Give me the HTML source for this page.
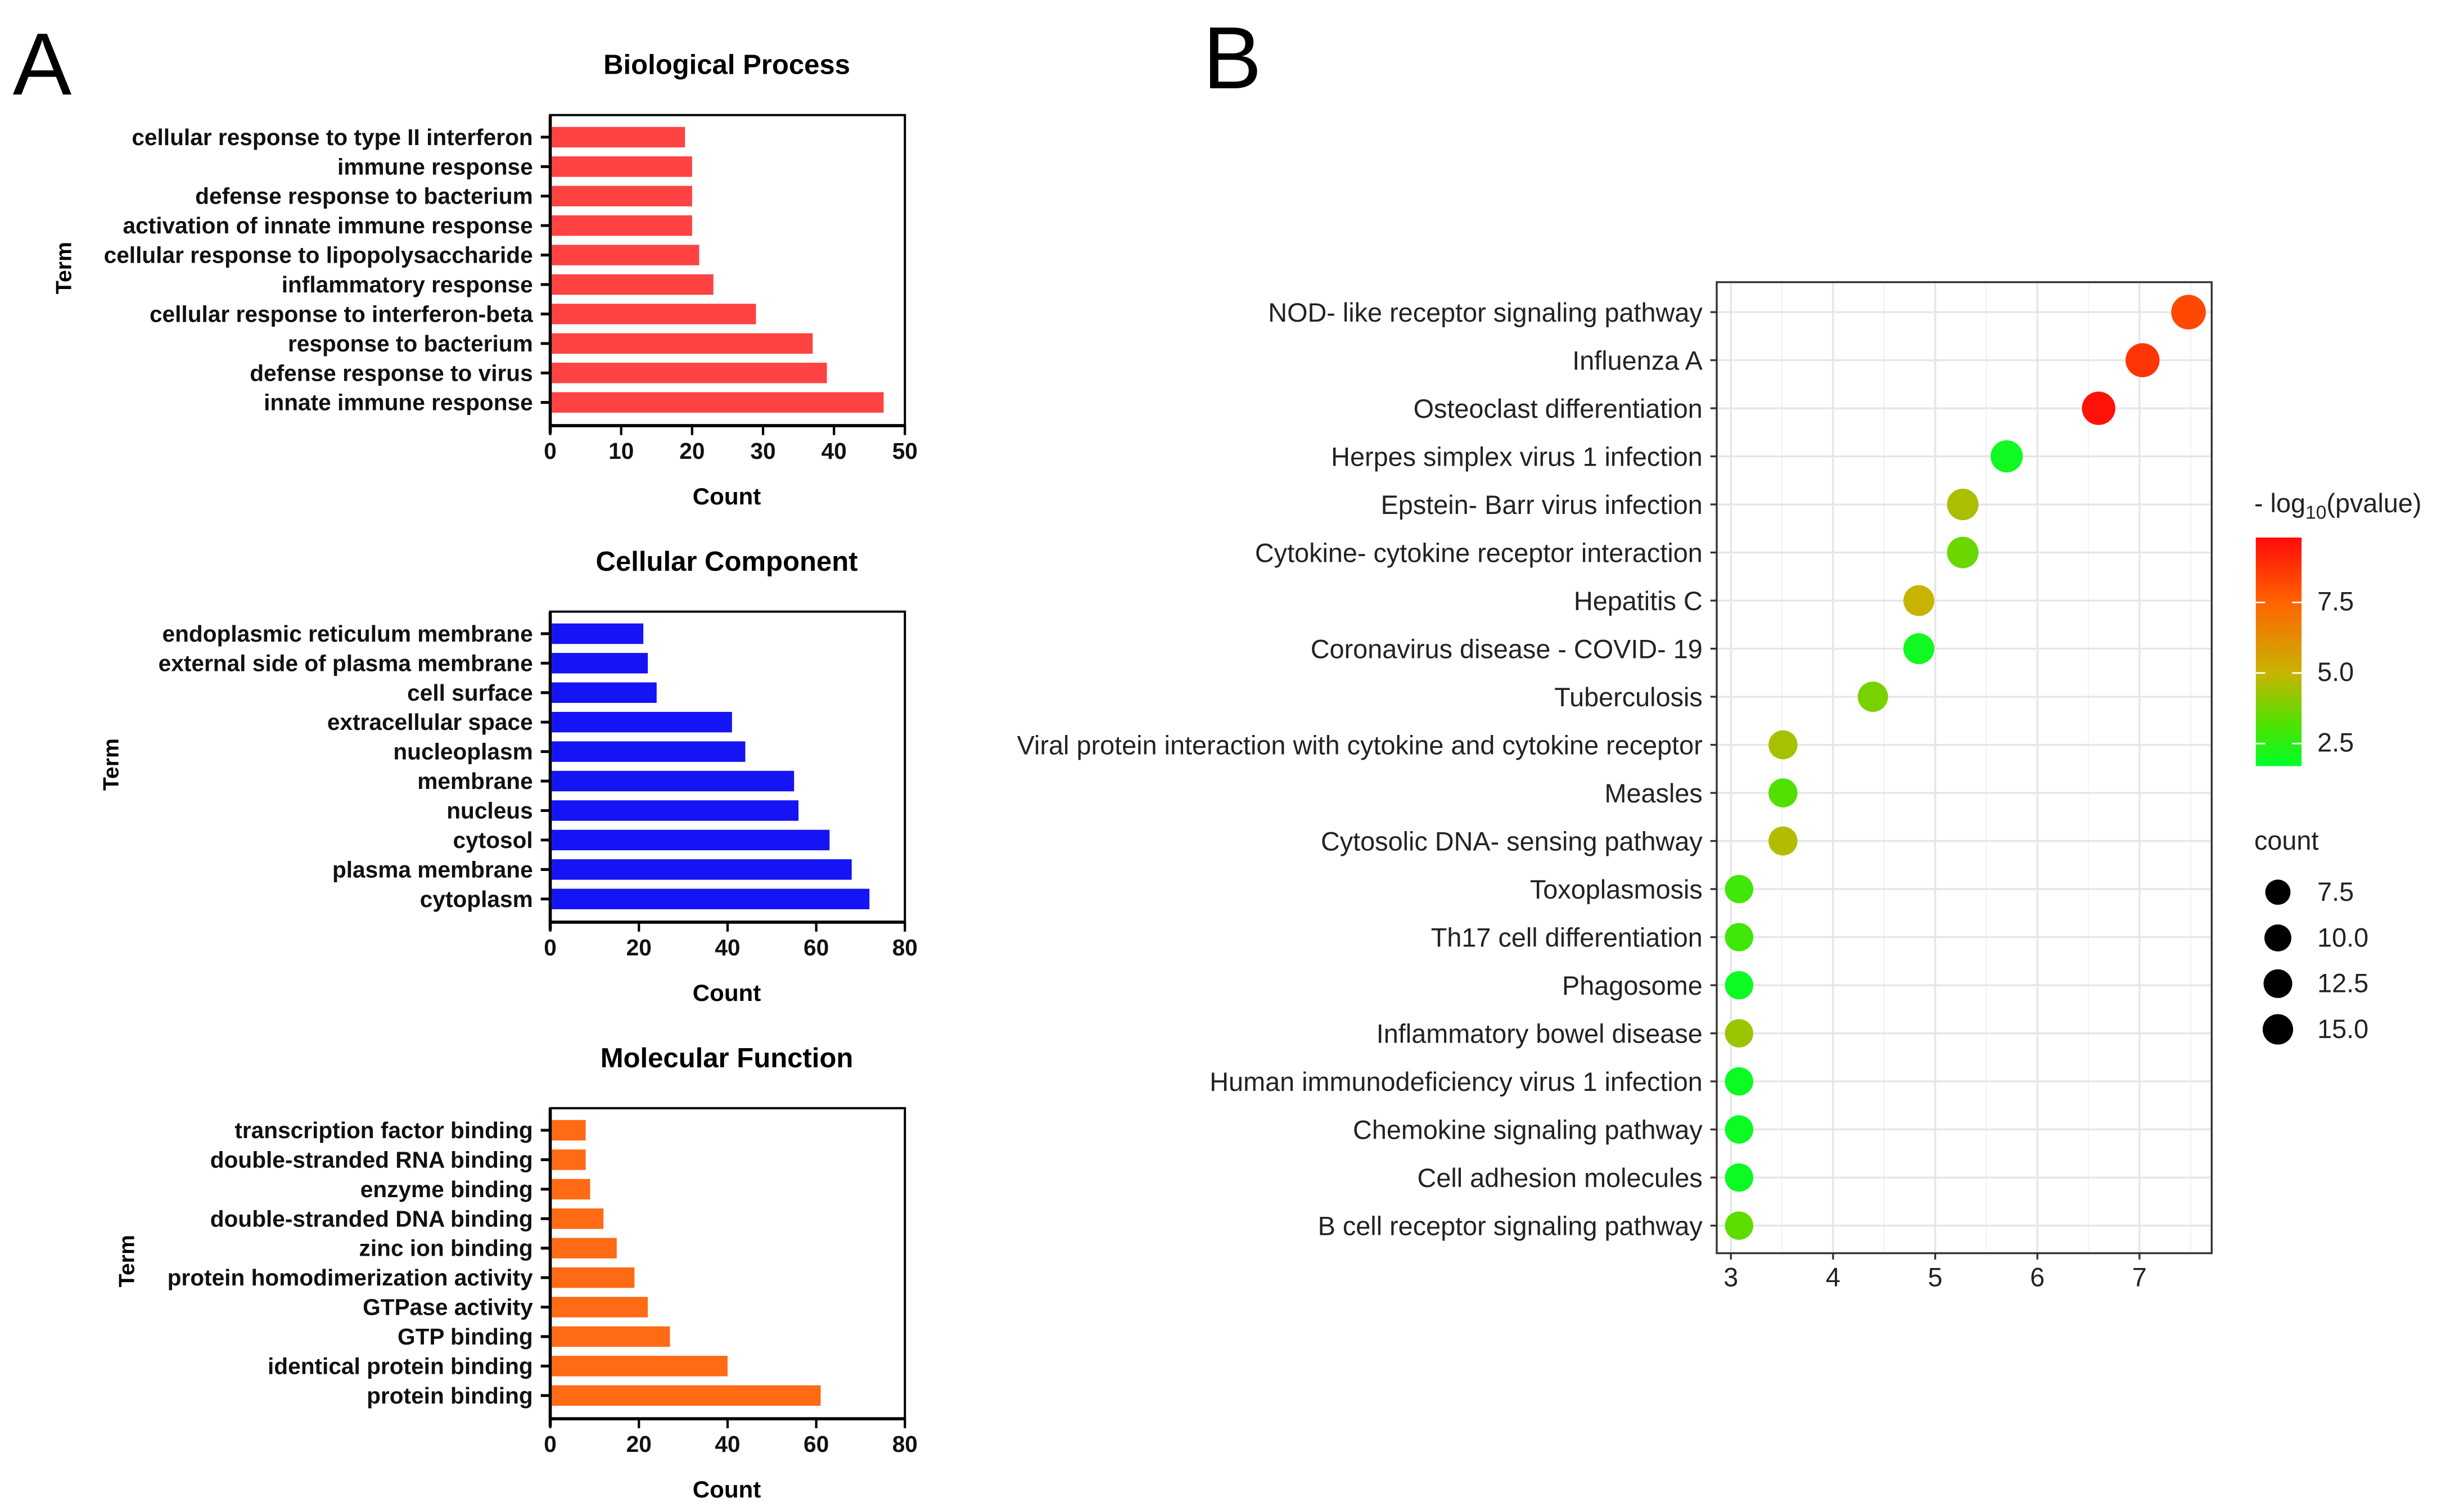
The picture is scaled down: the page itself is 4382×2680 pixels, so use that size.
<!DOCTYPE html>
<html><head><meta charset="utf-8"><style>
html,body{margin:0;padding:0;background:#fff}
svg{display:block}
.a{font-family:"Liberation Sans",sans-serif;font-weight:bold;font-size:14.5px;fill:#111}
.b{font-family:"Liberation Sans",sans-serif;font-size:16.7px;fill:#222}
</style></head><body>
<svg id="fig" width="4382" height="2680" viewBox="0 0 1563 956" xmlns="http://www.w3.org/2000/svg">
<rect width="1563" height="956" fill="#fff"/>
<text x="8" y="60" font-family="Liberation Sans,sans-serif" font-size="56">A</text>
<text x="763" y="56" font-family="Liberation Sans,sans-serif" font-size="56">B</text>
<g id="A"></g><g id="B"></g>
</svg>
<script>
const NS="http://www.w3.org/2000/svg";
function mk(p,t,a,txt){const e=document.createElementNS(NS,t);for(const k in a)e.setAttribute(k,a[k]);if(txt!==undefined)e.textContent=txt;p.appendChild(e);return e;}

// Panel A data
const bpTerms=["cellular response to type II interferon","immune response","defense response to bacterium","activation of innate immune response","cellular response to lipopolysaccharide","inflammatory response","cellular response to interferon-beta","response to bacterium","defense response to virus","innate immune response"];
const bpCounts=[19,20,20,20,21,23,29,37,39,47];
const bpTicks=[0,10,20,30,40,50];
const ccTerms=["endoplasmic reticulum membrane","external side of plasma membrane","cell surface","extracellular space","nucleoplasm","membrane","nucleus","cytosol","plasma membrane","cytoplasm"];
const ccCounts=[21,22,24,41,44,55,56,63,68,72];
const ccTicks=[0,20,40,60,80];
const mfTerms=["transcription factor binding","double-stranded RNA binding","enzyme binding","double-stranded DNA binding","zinc ion binding","protein homodimerization activity","GTPase activity","GTP binding","identical protein binding","protein binding"];
const mfCounts=[8,8,9,12,15,19,22,27,40,61];
const mfTicks=[0,20,40,60,80];

// Panel B data
const keggTerms=["NOD- like receptor signaling pathway","Influenza A","Osteoclast differentiation","Herpes simplex virus 1 infection","Epstein- Barr virus infection","Cytokine- cytokine receptor interaction","Hepatitis C","Coronavirus disease -  COVID- 19","Tuberculosis","Viral protein interaction with cytokine and cytokine receptor","Measles","Cytosolic DNA- sensing pathway","Toxoplasmosis","Th17 cell differentiation","Phagosome","Inflammatory bowel disease","Human immunodeficiency virus 1 infection","Chemokine signaling pathway","Cell adhesion molecules","B cell receptor signaling pathway"];
const keggX=[7.48,7.03,6.6,5.7,5.27,5.27,4.84,4.84,4.39,3.51,3.51,3.51,3.08,3.08,3.08,3.08,3.08,3.08,3.08,3.08];
const keggP=[8.2,8.7,9.6,2.0,4.6,3.6,5.0,2.0,3.8,4.5,3.2,4.7,2.9,2.9,1.9,4.3,1.9,1.9,1.9,3.4];
const keggCount=[16,15,14,12,11,11,10,10,9,7,7,7,6,6,6,6,6,6,6,6];
const bTicks=[3,4,5,6,7];
const pTicks=[2.5,5.0,7.5];
const countLegend=[7.5,10.0,12.5,15.0];

const A=document.getElementById('A');
function barPanel(name,title,terms,counts,ticks,top,color,termX){
  const g=mk(A,'g',{});
  
  
  const x0=349,x1=574,y0=top,y1=top+197,max=ticks[ticks.length-1];
  const sx=v=>x0+(x1-x0)*v/max;
  const t=mk(g,'text',{x:461,y:top-26,'text-anchor':'middle','font-family':'Liberation Sans,sans-serif','font-weight':'bold','font-size':'17.5'},title);
  
  const fr=mk(g,'rect',{x:x0,y:y0,width:x1-x0,height:y1-y0,fill:'none',stroke:'#000','stroke-width':1.4});
  
  mk(g,'line',{x1:x0,y1:y0,x2:x0,y2:y1+5,stroke:'#000','stroke-width':2});
  mk(g,'line',{x1:x0,y1:y1,x2:x1,y2:y1,stroke:'#000','stroke-width':2});
  const step=18.7;
  terms.forEach((tm,i)=>{
    const cy=top+14+i*step;
    const r=mk(g,'rect',{x:x0+1,y:cy-6.5,width:sx(counts[i])-x0-1,height:13,fill:color});
    
    
    mk(g,'line',{x1:x0-6,y1:cy,x2:x0,y2:cy,stroke:'#000','stroke-width':1.8});
    const l=mk(g,'text',{x:x0-11,y:cy+5,'text-anchor':'end',class:'a'},tm);
    
  });
  ticks.forEach(v=>{
    mk(g,'line',{x1:sx(v),y1:y1,x2:sx(v),y2:y1+6,stroke:'#000','stroke-width':1.5});
    const l=mk(g,'text',{x:sx(v),y:y1+21,'text-anchor':'middle',class:'a'},String(v));
    
  });
  const c=mk(g,'text',{x:461,y:y1+50,'text-anchor':'middle','font-family':'Liberation Sans,sans-serif','font-weight':'bold','font-size':'15'},'Count');
  
  const tt=mk(g,'text',{x:0,y:0,'text-anchor':'middle','font-family':'Liberation Sans,sans-serif','font-weight':'bold','font-size':'14',transform:`translate(${termX+5},${top+97}) rotate(-90)`},'Term');
  
}
barPanel('biological-process','Biological Process',bpTerms,bpCounts,bpTicks,73,'#ff4242',40);
barPanel('cellular-component','Cellular Component',ccTerms,ccCounts,ccTicks,388,'#1414f5',70);
barPanel('molecular-function','Molecular Function',mfTerms,mfCounts,mfTicks,703,'#ff6a14',80);

// Panel B
const B=document.getElementById('B');


const bx0=1089,bx1=1403,by0=179,by1=795;
const bsx=v=>1098+(v-3)*64.8;
const bsy=i=>198+i*30.5;
const stops=[[1.7,[0,255,40]],[3.2,[80,225,0]],[5,[200,180,0]],[7.5,[255,100,0]],[9.8,[255,10,10]]];
function col(v){
  if(v<=stops[0][0])return `rgb(${stops[0][1]})`;
  for(let i=1;i<stops.length;i++){if(v<=stops[i][0]){const a=stops[i-1],b=stops[i],t=(v-a[0])/(b[0]-a[0]);return 'rgb('+a[1].map((c,k)=>Math.round(c+(b[1][k]-c)*t)).join(',')+')';}}
  return `rgb(${stops[stops.length-1][1]})`;
}
const rad=c=>9+(c-6)*0.2;
for(let v=3;v<=7.5;v+=0.5){mk(B,'line',{x1:bsx(v),y1:by0,x2:bsx(v),y2:by1,stroke:v%1===0?'#e6e6e6':'#f3f3f3','stroke-width':v%1===0?1.2:0.8});}
keggTerms.forEach((t,i)=>mk(B,'line',{x1:bx0,y1:bsy(i),x2:bx1,y2:bsy(i),stroke:'#e6e6e6','stroke-width':1.2}));
const bf=mk(B,'rect',{x:bx0,y:by0,width:bx1-bx0,height:by1-by0,fill:'none',stroke:'#333','stroke-width':1.2});

keggTerms.forEach((t,i)=>{
  mk(B,'line',{x1:bx0-4,y1:bsy(i),x2:bx0,y2:bsy(i),stroke:'#333','stroke-width':1.2});
  const l=mk(B,'text',{x:bx0-9,y:bsy(i)+6,'text-anchor':'end',class:'b'},t);
  
  const c=mk(B,'circle',{cx:bsx(keggX[i]),cy:bsy(i),r:rad(keggCount[i]),fill:col(keggP[i])});
  
  
});
bTicks.forEach(v=>{
  mk(B,'line',{x1:bsx(v),y1:by1,x2:bsx(v),y2:by1+4,stroke:'#333','stroke-width':1.2});
  const l=mk(B,'text',{x:bsx(v),y:by1+21,'text-anchor':'middle',class:'b','font-size':'14.5'},String(v));
  
});
const lt=mk(B,'text',{x:1430,y:325,class:'b','font-size':'19.5'});

lt.innerHTML='- log<tspan font-size="12" dy="4">10</tspan><tspan dy="-4">(pvalue)</tspan>';
const defs=mk(B,'defs',{});
const gr=mk(defs,'linearGradient',{id:'pg',x1:0,y1:1,x2:0,y2:0});
const gy0=486,gy1=341,pmin=1.7,pmax=9.8;
stops.forEach(s=>mk(gr,'stop',{offset:((s[0]-pmin)/(pmax-pmin)).toFixed(3),'stop-color':`rgb(${s[1]})`}));
const gb=mk(B,'rect',{x:1431,y:gy1,width:29,height:gy0-gy1,fill:'url(#pg)'});

const psy=v=>gy0-(v-pmin)/(pmax-pmin)*(gy0-gy1);
pTicks.forEach(v=>{
  mk(B,'line',{x1:1431,y1:psy(v),x2:1437,y2:psy(v),stroke:'#fff','stroke-width':1});
  mk(B,'line',{x1:1454,y1:psy(v),x2:1460,y2:psy(v),stroke:'#fff','stroke-width':1});
  const l=mk(B,'text',{x:1470,y:psy(v)+5,class:'b','font-size':'15.5'},v.toFixed(1));
  
});
const ct=mk(B,'text',{x:1430,y:539,class:'b','font-size':'19'},'count');

countLegend.forEach((v,i)=>{
  const y=566+i*29;
  const c=mk(B,'circle',{cx:1445,cy:y,r:8+(v-7.5)*0.22,fill:'#000'});
  
  const l=mk(B,'text',{x:1470,y:y+5.5,class:'b','font-size':'15.5'},v.toFixed(1));
  
});
</script>
</body></html>
